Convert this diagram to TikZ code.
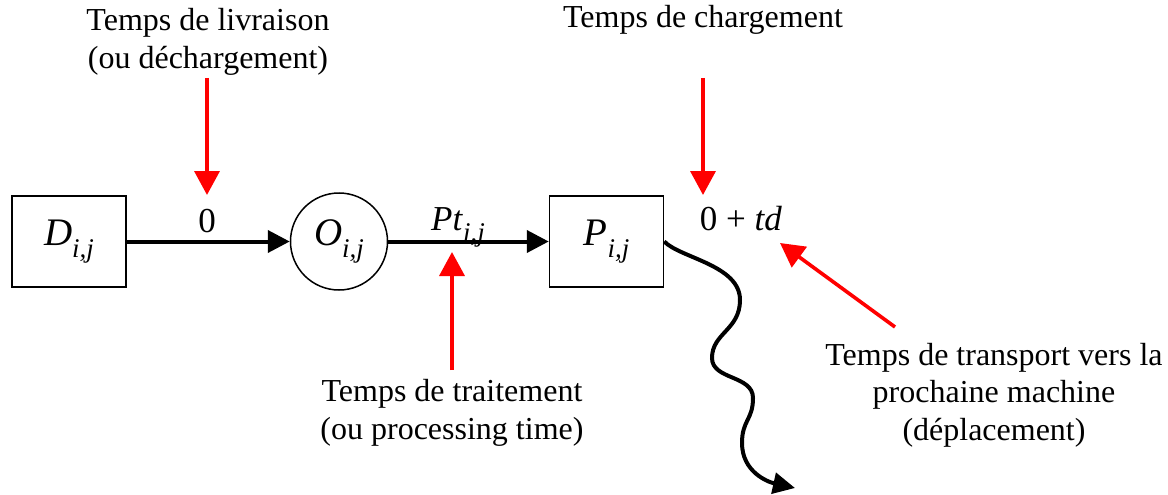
\documentclass[tikz,border=0pt]{standalone}
\usepackage{fontspec}
\setmainfont{Liberation Serif}
\usetikzlibrary{arrows.meta}
\newcommand{\ijsub}{\raisebox{-0.32em}{\fontsize{27}{27}\selectfont\itshape i,j}}
\begin{document}
\begin{tikzpicture}[x=1pt,y=-1pt,
  lbl/.style={font=\fontsize{32}{37.5}\selectfont, align=center, inner sep=0pt},
  sym/.style={font=\fontsize{35}{40}\selectfont, inner sep=0pt},
  boxnode/.style={draw, line width=1.5pt, minimum width=114pt, minimum height=91pt, inner sep=0pt, font=\fontsize{39}{42}\selectfont},
  circnode/.style={draw, circle, line width=1.5pt, minimum size=97pt, inner sep=0pt, font=\fontsize{39}{42}\selectfont},
  flow/.style={line width=4pt, -{Triangle[length=22pt,width=22pt]}},
  redarr/.style={red, line width=3.6pt, -{Triangle[length=24pt,width=25pt]}}
]
\useasboundingbox (0,0) rectangle (1168,495);

% main nodes
\node[boxnode] (D) at (69,241.5) {\textit{D}\ijsub};
\node[circnode] (O) at (339,241.5) {\textit{O}\ijsub};
\node[boxnode] (P) at (606.5,241.5) {\textit{P}\ijsub};

% edge labels
\node[sym, anchor=base] (l0) at (207,232) {0};
\node[sym, anchor=base] (lpt) at (458,230) {\textit{Pt}\ijsub};
\node[sym, anchor=base] (ltd) at (741,230) {0 + \textit{td}};

% annotation texts
\node[lbl] (tl) at (208,42) {Temps de livraison\\(ou déchargement)};
\node[lbl, anchor=base] (tc) at (703,28) {Temps de chargement};
\node[lbl] (tt) at (452,413) {Temps de traitement\\(ou processing time)};
\node[lbl] (tr) at (994,395) {Temps de transport vers la\\prochaine machine\\(déplacement)};

% flow arrows
\draw[flow] (D) -- (O);
\draw[flow] (O) -- (P);

% red arrows
\coordinate (r1s) at (207,78);  \coordinate (r1e) at (207,195);
\coordinate (r2s) at (703,78);  \coordinate (r2e) at (703,195);
\coordinate (r3s) at (452,370); \coordinate (r3e) at (452,252);
\coordinate (r4s) at (895,327); \coordinate (r4e) at (780,243);
\draw[redarr] (r1s) -- (r1e);
\draw[redarr] (r2s) -- (r2e);
\draw[redarr] (r3s) -- (r3e);
\draw[redarr] (r4s) -- (r4e);

% wavy exit
\coordinate (wend) at (795,488);
\draw[line width=4pt, -{Triangle[length=22pt,width=21pt]}]
  (P.east) .. controls (680,258) and (740,265) .. (740,300)
  .. controls (740,330) and (712,333) .. (712,358)
  .. controls (712,380) and (753,375) .. (753,398)
  .. controls (753,420) and (742,420) .. (742,443)
  .. controls (742,472) and (768,482) .. (wend);
\end{tikzpicture}
\end{document}
